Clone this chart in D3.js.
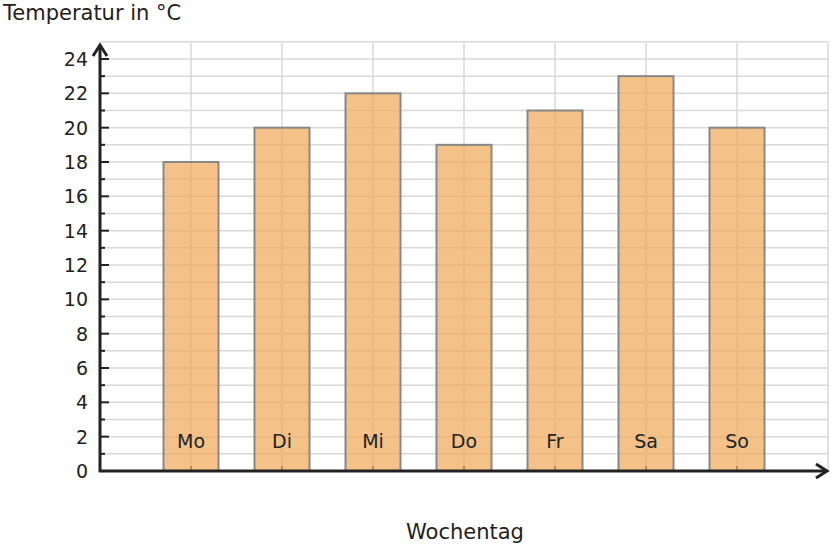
<!DOCTYPE html>
<html><head><meta charset="utf-8">
<script src="https://cdn.jsdelivr.net/npm/d3@7"></script>
<style>body{margin:0;background:#fff}text{font-family:"DejaVu Sans";fill:#222}</style>
</head><body><svg id="c" width="833" height="548"></svg>
<script>
var days = ["Mo", "Di", "Mi", "Do", "Fr", "Sa", "So"];
var temps = [18, 20, 22, 19, 21, 23, 20];
var yTicks = [0, 2, 4, 6, 8, 10, 12, 14, 16, 18, 20, 22, 24];

var svg = d3.select("#c");
var x0 = 100, yBase = 471;
var x = d3.scaleLinear().domain([0, 8]).range([x0, x0 + 8 * 91]);
var y = d3.scaleLinear().domain([0, 24]).range([yBase, 59]);
var units = d3.range(0, 26);

// grid
svg.append("g").selectAll("line").data(units).join("line")
    .attr("x1", x0).attr("x2", 828)
    .attr("y1", function(d) { return y(d); }).attr("y2", function(d) { return y(d); })
    .attr("stroke", "#d9d9d9").attr("stroke-width", 1.5);
svg.append("g").selectAll("line").data(d3.range(1, 9)).join("line")
    .attr("x1", function(d) { return x(d); }).attr("x2", function(d) { return x(d); })
    .attr("y1", 43).attr("y2", yBase)
    .attr("stroke", "#d9d9d9").attr("stroke-width", 1.5);

// bars
svg.append("g").selectAll("rect").data(temps).join("rect")
    .attr("x", function(d, i) { return x(i + 1) - 27.5; })
    .attr("width", 55)
    .attr("y", function(d) { return y(d); })
    .attr("height", function(d) { return yBase - y(d); })
    .attr("fill", "rgba(240,170,90,0.72)")
    .attr("stroke", "#888").attr("stroke-width", 2);

// x ticks
svg.append("g").selectAll("line").data(days).join("line")
    .attr("x1", function(d, i) { return x(i + 1); }).attr("x2", function(d, i) { return x(i + 1); })
    .attr("y1", yBase - 5).attr("y2", yBase)
    .attr("stroke", "#b07a4a").attr("stroke-width", 1.5);

svg.append("g").selectAll("text").data(days).join("text")
    .attr("x", function(d, i) { return x(i + 1); }).attr("y", 448)
    .attr("text-anchor", "middle").attr("font-size", 19).text(function(d) { return d; });

// y ticks
svg.append("g").selectAll("line").data(units.slice(0, 25)).join("line")
    .attr("x1", x0).attr("x2", function(d) { return x0 + (d % 2 ? 5 : 9); })
    .attr("y1", function(d) { return y(d); }).attr("y2", function(d) { return y(d); })
    .attr("stroke", "#222").attr("stroke-width", 2);
svg.append("g").selectAll("text").data(yTicks).join("text")
    .attr("x", 88).attr("y", function(d) { return y(d) + 7; })
    .attr("text-anchor", "end").attr("font-size", 19).text(function(d) { return d; });

// axes
svg.append("line").attr("x1", x0).attr("x2", x0).attr("y1", yBase + 1).attr("y2", 46)
    .attr("stroke", "#222").attr("stroke-width", 3);
svg.append("path").attr("d", "M93,56 L100,45 L107,56").attr("fill", "none")
    .attr("stroke", "#222").attr("stroke-width", 3);
svg.append("line").attr("x1", x0 - 1).attr("x2", 826).attr("y1", yBase).attr("y2", yBase)
    .attr("stroke", "#222").attr("stroke-width", 3);
svg.append("path").attr("d", "M816,464 L827,471 L816,478").attr("fill", "none")
    .attr("stroke", "#222").attr("stroke-width", 3);

svg.append("text").attr("x", 3).attr("y", 20).attr("font-size", 21).text("Temperatur in °C");
svg.append("text").attr("x", 465).attr("y", 539).attr("text-anchor", "middle")
    .attr("font-size", 21).text("Wochentag");
</script></body></html>
